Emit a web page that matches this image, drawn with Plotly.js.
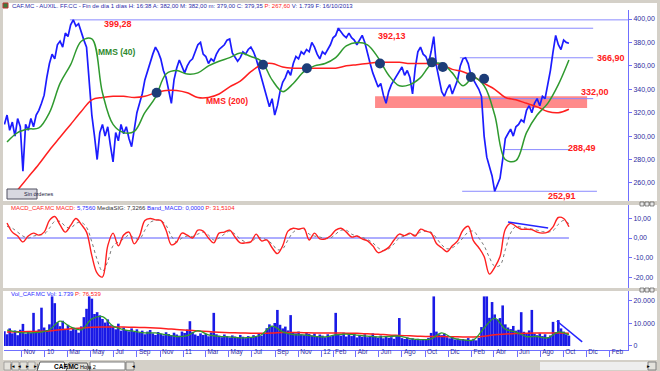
<!DOCTYPE html>
<html><head><meta charset="utf-8">
<script src="https://cdn.plot.ly/plotly-3.0.1.min.js"></script>
<style>html,body{margin:0;padding:0;background:#d4d0c8;overflow:hidden}#chart{width:660px;height:371px}</style>
</head><body><div id="chart"></div>
<script>
// ---------- DATA ----------
const lastDate = '2013-10-16';
// weekly closes (approx.), Sep 2009 -> 16 Oct 2013
const priceClose = [
310,318,305,312,300,315,308,270,310,305,
315,308,318,322,328,335,350,362,370,366,
378,381,376,388,385,395,399.28,394,396,388,
382,376,350,318,300,280,303,310,300,308,
292,278,303,296,310,302,308,298,291,305,
320,328,336,348,356,362,370,376,372,366,
356,350,340,328,348,358,365,360,354,360,
364,366,372,378,380,370,368,362,366,364,
370,374,376,378,382,383,371,368,364,367,
372,370,374,376,372,366,358,350,340,334,
325,332,318,326,338,346,350,356,352,362,
368,366,372,370,374,372,380,376,370,366,
372,370,374,378,384,386,392.13,389,386,384,
388,384,382,378,382,386,380,370,362,354,
348,342,345,335,328,338,344,348,352,356,
359,352,356,350,336,358,372,376,370,368,
362,372,385,360,348,338,334,340,344,336,
342,348,360,366,366.9,362,352,348,344,340,
334,300,282,274,266,252.91,258,264,280,298,
302,306,300,308,310,314,312,322,326,320,
328,332,326,334,332,344,356,372,386,378,
374,382,380,379.35];
// weekly volume
const volume = [
6500,5200,7800,5600,6900,4800,7200,9800,5400,6600,
5900,14700,6300,7400,17000,8200,7100,9600,22000,19000,
10500,8800,11200,7600,9400,6800,8100,7300,5900,8700,
12800,16500,22000,21000,14200,15000,13600,12000,10400,11800,
9200,8600,7400,9900,6800,8200,7100,6500,7800,6200,
7400,5900,6800,5200,6400,7100,5600,4900,6200,5400,
4700,6100,5300,4800,5900,5100,4600,6400,5800,7300,
11000,6200,5100,4500,5600,4900,5400,4300,6000,14700,
5200,4600,3900,5100,4400,3800,4700,4200,3600,4900,
4100,3500,4400,3900,4800,4200,5300,4600,5800,7900,
9600,8700,10200,16000,9400,7800,8600,6900,13700,6100,
5600,6400,5200,4800,5900,5300,4700,5500,4400,5100,
4600,3900,5200,4300,4800,14700,5400,4600,5900,4200,
5000,4400,5300,3800,4700,4100,5200,3900,4500,5600,
4300,3700,4600,3400,4200,3600,3900,3200,4400,12400,
3500,3100,3800,2900,3400,2700,3200,2600,3000,2800,
3600,5800,22000,6400,5200,4800,5500,3900,3400,4200,
2900,3300,2600,3100,2800,3500,2700,3200,2500,3600,
8400,22000,22000,12500,19500,14000,11800,12400,18000,9600,
8200,7500,8900,6800,7200,15000,6300,5700,6900,16000,
5400,4800,5600,4400,5200,3900,4700,10700,6200,11500,
7800,6400,5200,4600];
// 4-weekly readings of the moving averages
const sma40 = [295,303,306,307,320,345,361,381,383,337,310,303,304,320,333,353,356,353,354,360,364,367,371,368,364,348,338,345,355,360,362,367,377,380,378,367,352,343,344,350,361,362,354,343,350,343,318,280,279,303,318,328,344,365];
const sma200 = [null,254,265,276,288,299,310,321,331,333,334,334,333,334,337,339,339,337,333,333,336,342,347,355,361,362,359,358,358,358,358,358,360,361,362,363,363,363,362,362,362,361,357,355,351,345,340,333,331,328,325,321,320,323];
const volMA1 = [7000,6200,5800,6000,7200,11000,8500,7200,12000,13000,8800,7300,6500,5800,5800,5000,4200,4600,6800,4900,4300,4000,3600,3800,5000,8800,6300,5000,4900,4300,4000,4900,5300,4800,4400,4000,4200,4400,3300,2800,3200,5800,3600,2700,2700,8000,12400,7500,6200,4200,4200,3600,6200,4900];
const volMA2 = [6200,6300,6400,6500,6700,7200,7600,8000,8300,8400,8400,8400,8300,8200,8000,7700,7300,7000,6700,6400,6100,5900,5800,5700,5700,5800,6000,6000,5900,5800,5800,5800,5700,5600,5400,5200,4900,4700,4500,4300,4200,4200,4100,4000,4000,4300,5000,5300,5500,5700,5800,5800,5800,5700];
// 2-weekly MACD and signal
const macd = [7.7,3,1,-2,1,2.5,1.5,3,9,11,
6.7,3,6.5,10,7,3,-9,-18,-20,-4,
2.5,-4,1.5,3,-3,1,9,10,9.3,9,
4,-3.5,-2,2.5,1.5,0,4,3.5,0,-2.5,
2.5,3,4,0.5,-2.5,-2.5,-2,2,-1.5,-1,
-5,-8,-4,3.5,5,4.5,5,-1,2.5,-0.5,
-0.5,1,4,5,3,0.5,1,-0.5,-1.5,-4,
-7.5,-6.5,-4.8,-1,2,1.2,2.5,1,4.5,3.5,
2.5,-2.8,-5,-7,-4,-1.5,
4,6,-1.5,-5,-9.5,-18.5,-15,-9.5,4.5,7.5,6,4.5,4.5,4.3,3,2.5,3,5.7,10.5,10,5.756];
const macdSignal = [6,5,3,1,0,1,1.5,2,5,8.5,
8.5,6,5,7.5,8,5.5,-2,-11,-17,-12,
-4,-2,-0.5,1.5,0,-0.5,4,8,9,9,
6.5,1,-2,0,1,0.8,2,3,1.5,-1,
0,2,3.5,2,-0.5,-2,-2,0,0,-1,
-3,-6,-5.5,-1,3,4.5,4.5,2,1,0.5,
-0.3,0,2,4,4,2,1,0.3,-0.8,-2.5,
-5,-6.5,-5.5,-3,0,1,2,1.5,3,3.5,
3,0,-3.5,-5.5,-5,-3,
0,3,3.5,0,-4,-10,-14.5,-14,-6,2.5,6,5.5,5,4.6,4,3.3,3,3.8,7,9,7.3266];
// horizontal support / resistance levels
const levelValues = [399.28, 392.13, 366.90, 332.00, 288.49, 252.91];
const levelLabels = ['399,28','392,13','366,90','332,00','288,49','252,91'];
const levelStart = ['2010-03-08','2012-02-11','2013-01-01','2013-01-01','2013-04-30','2013-01-07'];
const levelEnd   = ['2014-03-21','2013-12-19','2013-12-19','2013-12-19','2013-10-19','2013-12-29'];
// support zone
const bandStart = '2012-05-22', bandEnd = '2013-12-03', bandLow = 324, bandHigh = 334;
// SMA crossings marked with ellipses
const crossDates  = ['2010-10-23','2011-07-31','2011-11-24','2012-06-04','2012-10-19','2012-11-17','2013-01-30','2013-03-06'];
const crossValues = [337, 361, 358, 362, 363, 359, 350.5, 349];
// hand drawn trend lines
const macdTrendDates = ['2013-05-08','2013-08-22'], macdTrendValues = [8.2, 5.1];
const volTrendDates = ['2013-09-14','2013-11-20'], volTrendValues = [11100, 1800];
// axis ticks
const xTickVals = ['2009-11-01','2010-01-01','2010-03-01','2010-05-01','2010-07-01','2010-09-01','2010-11-01','2011-01-01','2011-03-01','2011-05-01','2011-07-01','2011-09-01','2011-11-01','2012-01-01','2012-02-01','2012-04-01','2012-06-01','2012-08-01','2012-10-01','2012-12-01','2013-02-01','2013-04-01','2013-06-01','2013-08-01','2013-10-01','2013-12-01','2014-02-01'];
const xTickText = ['Nov','10','Mar','May','Jul','Sep','Nov','11','Mar','May','Jul','Sep','Nov','12','Feb','Abr','Jun','Ago','Oct','Dic','Feb','Abr','Jun','Ago','Oct','Dic','Feb'];
const priceTicks = [400,380,360,340,320,300,280,260];
const priceTickText = ['400,00','380,00','360,00','340,00','320,00','300,00','280,00','260,00'];
const macdTicks = [10,0,-10,-20];
const macdTickText = ['10,00','0,00','-10,00','-20,00'];
const volTicks = [20000,10000,0];
const volTickText = ['20.000','10.000','0'];

// ---------- helpers ----------
function datesBack(n, stepDays){
  const end = Date.parse(lastDate + 'T00:00:00Z');
  const out = [];
  for (let i = 0; i < n; i++) out.push(new Date(end - (n-1-i)*stepDays*864e5).toISOString().slice(0,10));
  return out;
}
const priceDates = datesBack(priceClose.length, 7);
const maDates = datesBack(sma40.length, 28);
const macdDates = datesBack(macd.length, 14);
const PX = p => (p - 4) / 624;       // layout helpers (pixel -> paper)
const PY = p => (350 - p) / 340;

const BLUE = '#1c1cff', AX = '#6f6fff', TXT = '#2c2ca0';
const traces = [];
// price panel
levelValues.forEach((v,i)=>traces.push({x:[levelStart[i],levelEnd[i]],y:[v,v],mode:'lines',line:{color:'#8a8aff',width:1},xaxis:'x',yaxis:'y',hoverinfo:'skip'}));
traces.push({x:priceDates,y:priceClose,mode:'lines',line:{color:BLUE,width:1.7},xaxis:'x',yaxis:'y'});
traces.push({x:maDates,y:sma200,mode:'lines',line:{color:'#ff1f1f',width:1.5,shape:'spline'},xaxis:'x',yaxis:'y'});
traces.push({x:maDates,y:sma40,mode:'lines',line:{color:'#2f9a2f',width:1.5,shape:'spline'},xaxis:'x',yaxis:'y'});
traces.push({x:crossDates,y:crossValues,mode:'markers',marker:{size:10,color:'#1d3d78'},xaxis:'x',yaxis:'y'});
// MACD panel
traces.push({x:[macdDates[0],macdDates[macdDates.length-1]],y:[0,0],mode:'lines',line:{color:'#5a5aff',width:1},xaxis:'x',yaxis:'y2'});
traces.push({x:macdDates,y:macdSignal,mode:'lines',line:{color:'#7a7a7a',width:1,dash:'dot',shape:'spline'},xaxis:'x',yaxis:'y2'});
traces.push({x:macdDates,y:macd,mode:'lines',line:{color:'#ff2020',width:1.4,shape:'spline'},xaxis:'x',yaxis:'y2'});
traces.push({x:macdTrendDates,y:macdTrendValues,mode:'lines',line:{color:'#2424ff',width:1.5},xaxis:'x',yaxis:'y2'});
// volume panel
traces.push({x:priceDates,y:volume,type:'bar',marker:{color:'#1a1ae6',line:{width:0}},xaxis:'x',yaxis:'y3'});
traces.push({x:maDates,y:volMA2,mode:'lines',line:{color:'#ff1f1f',width:1.5,shape:'spline'},xaxis:'x',yaxis:'y3'});
traces.push({x:maDates,y:volMA1,mode:'lines',line:{color:'#2f9a2f',width:1.3,shape:'spline'},xaxis:'x',yaxis:'y3'});
traces.push({x:volTrendDates,y:volTrendValues,mode:'lines',line:{color:'#2424ff',width:1.5},xaxis:'x',yaxis:'y3'});

const yCommon = {side:'right',anchor:'x',showline:true,linecolor:AX,linewidth:1,ticks:'outside',ticklen:3,tickcolor:AX,
  tickfont:{size:7,color:TXT,family:'Liberation Sans, Arial'},showgrid:false,zeroline:false,fixedrange:true};

const shapes = [
  // panel backgrounds
  {type:'rect',xref:'paper',yref:'paper',x0:PX(3),x1:PX(657),y0:PY(201),y1:PY(3),fillcolor:'#ffffff',line:{width:0},layer:'below'},
  {type:'rect',xref:'paper',yref:'paper',x0:PX(3),x1:PX(657),y0:PY(288),y1:PY(205),fillcolor:'#ffffff',line:{width:0},layer:'below'},
  {type:'rect',xref:'paper',yref:'paper',x0:PX(3),x1:PX(657),y0:PY(360),y1:PY(291),fillcolor:'#ffffff',line:{width:0},layer:'below'},
  // support zone
  {type:'rect',xref:'x',yref:'y',x0:bandStart,x1:bandEnd,y0:bandLow,y1:bandHigh,fillcolor:'#ff8a8a',line:{width:0},layer:'below'},
  // "Sin órdenes" button
  {type:'rect',xref:'paper',yref:'paper',x0:PX(7),x1:PX(37),y0:PY(199),y1:PY(189),fillcolor:'#d8d8e0',line:{color:'#505060',width:1}},
  // header icon
  {type:'rect',xref:'paper',yref:'paper',x0:PX(3),x1:PX(8),y0:PY(8),y1:PY(3),fillcolor:'#3d7a3d',line:{color:'#c03030',width:1}},
  // bottom tab bar pieces
  {type:'rect',xref:'paper',yref:'paper',x0:PX(90),x1:PX(125),y0:PY(370),y1:PY(362),fillcolor:'#ffffff',line:{color:'#808080',width:1}},
  {type:'rect',xref:'paper',yref:'paper',x0:PX(126),x1:PX(134),y0:PY(370),y1:PY(362),fillcolor:'#e4e2dc',line:{color:'#808080',width:1}},
  {type:'rect',xref:'paper',yref:'paper',x0:PX(540),x1:PX(648),y0:PY(370),y1:PY(362),fillcolor:'#eeeeee',line:{width:0}},
  {type:'rect',xref:'paper',yref:'paper',x0:PX(648),x1:PX(656),y0:PY(370),y1:PY(362),fillcolor:'#e4e2dc',line:{color:'#808080',width:1}},
  {type:'path',xref:'paper',yref:'paper',path:`M ${PX(37)} ${PY(371)} L ${PX(40)} ${PY(362)} L ${PX(64)} ${PY(362)} L ${PX(67)} ${PY(371)} Z`,fillcolor:'#ffffff',line:{color:'#606060',width:1}},
  {type:'path',xref:'paper',yref:'paper',path:`M ${PX(66)} ${PY(371)} L ${PX(69)} ${PY(363)} L ${PX(87)} ${PY(363)} L ${PX(90)} ${PY(371)} Z`,fillcolor:'#e4e2dc',line:{color:'#606060',width:1}},
];
// window buttons and nav buttons
[[204],[290]].forEach(([y])=>[640,645,650].forEach(x=>shapes.push({type:'rect',xref:'paper',yref:'paper',x0:PX(x),x1:PX(x+4),y0:PY(y+2),y1:PY(y-2),fillcolor:'#e8e8e8',line:{color:'#404040',width:0.6}})));
[4,12,20,28].forEach(x=>shapes.push({type:'rect',xref:'paper',yref:'paper',x0:PX(x),x1:PX(x+7),y0:PY(370),y1:PY(362),fillcolor:'#e4e2dc',line:{color:'#808080',width:0.6}}));

const F = 'Liberation Sans, Arial';
const ann = [];
const A = (o)=>ann.push(Object.assign({showarrow:false,font:{family:F,size:9,color:'#ff2020'}},o));
// header lines
A({xref:'paper',yref:'paper',x:PX(10),y:PY(5.5),xanchor:'left',yanchor:'middle',font:{family:F,size:6,color:'#2a2aa8'},
  text:'CAF.MC - AUXIL. FF.CC - Fin de día 1 días H: 16:38 A: 382,00 M: 382,00 m: 379,00 C: 379,35 <span style="color:#ff2020">P: 267,60</span> V: 1.739 F: 16/10/2013'});
A({xref:'paper',yref:'paper',x:PX(9),y:PY(208),xanchor:'left',yanchor:'middle',font:{family:F,size:6,color:'#ff2020'},
  text:'MACD_CAF.MC MACD: <span style="color:#2a2aff">5,7560</span> <span style="color:#333333">MediaSIG: 7,3266</span> <span style="color:#2a2aff">Band_MACD: 0,0000</span> P: 31,5104'});
A({xref:'paper',yref:'paper',x:PX(9),y:PY(293.5),xanchor:'left',yanchor:'middle',font:{family:F,size:6,color:'#2a2aff'},
  text:'Vol_CAF.MC Vol: 1.739 <span style="color:#ff2020">P: 76.539</span>'});
// level labels
const labelPos = [['2010-07-13',395.7],['2012-07-06',385.5],['2014-02-04',366.7],['2013-12-24',337.7],['2013-11-20',289.8],['2013-09-28',248.8]];
levelLabels.forEach((t,i)=>A({xref:'x',yref:'y',x:labelPos[i][0],y:labelPos[i][1],text:'<b>'+t+'</b>'}));
A({xref:'x',yref:'y',x:'2010-07-10',y:371.8,text:'<b>MMS (40)</b>',font:{family:F,size:8.5,color:'#2f8a2f'}});
A({xref:'x',yref:'y',x:'2011-04-27',y:330,text:'<b>MMS (200)</b>',font:{family:F,size:8.5,color:'#ff2020'}});
A({xref:'paper',yref:'paper',x:PX(22),y:PY(194),text:'Sin órdenes',font:{family:F,size:5.5,color:'#202040'}});
// tabs
A({xref:'paper',yref:'paper',x:PX(52),y:PY(366.5),yanchor:'middle',text:'<b>CAF.MC</b>',font:{family:F,size:6.5,color:'#000000'}});
A({xref:'paper',yref:'paper',x:PX(78),y:PY(367),yanchor:'middle',text:'Hoja 2',font:{family:F,size:5.5,color:'#000000'}});
const navTxt = ['|◂','◂','▸','▸|'];
[4,12,20,28].forEach((x,i)=>A({xref:'paper',yref:'paper',x:PX(x+3.5),y:PY(366),yanchor:'middle',text:navTxt[i],font:{family:'DejaVu Sans',size:5.5,color:'#000000'}}));
A({xref:'paper',yref:'paper',x:PX(130),y:PY(366),yanchor:'middle',text:'◂',font:{family:'DejaVu Sans',size:5.5,color:'#000000'}});
A({xref:'paper',yref:'paper',x:PX(652),y:PY(366),yanchor:'middle',text:'▸',font:{family:'DejaVu Sans',size:5.5,color:'#000000'}});

const layout = {
  width:660,height:371,margin:{l:4,r:32,t:10,b:21,pad:0},
  paper_bgcolor:'#d4d0c8',plot_bgcolor:'rgba(0,0,0,0)',showlegend:false,bargap:0.02,
  font:{family:F},
  xaxis:{type:'date',range:['2009-09-15','2014-03-21'],anchor:'y3',tickmode:'array',tickvals:xTickVals,ticktext:xTickText,
    ticks:'outside',ticklen:6,tickcolor:AX,tickangle:0,ticklabelposition:'outside right',ticklabelshift:1,ticklabelstandoff:-5,
    tickfont:{size:6.5,color:TXT,family:F},showline:true,linecolor:AX,showgrid:false,zeroline:false,fixedrange:true},
  yaxis:Object.assign({},yCommon,{domain:[PY(201),1],range:[244.6,407.7],tickmode:'array',tickvals:priceTicks,ticktext:priceTickText}),
  yaxis2:Object.assign({},yCommon,{domain:[PY(288),PY(205)],range:[-25.6,16.9],tickmode:'array',tickvals:macdTicks,ticktext:macdTickText}),
  yaxis3:Object.assign({},yCommon,{domain:[0,PY(291)],range:[-1780,24400],tickmode:'array',tickvals:volTicks,ticktext:volTickText}),
  shapes:shapes,annotations:ann
};
Plotly.newPlot('chart',traces,layout,{displayModeBar:false,staticPlot:true});
</script></body></html>
